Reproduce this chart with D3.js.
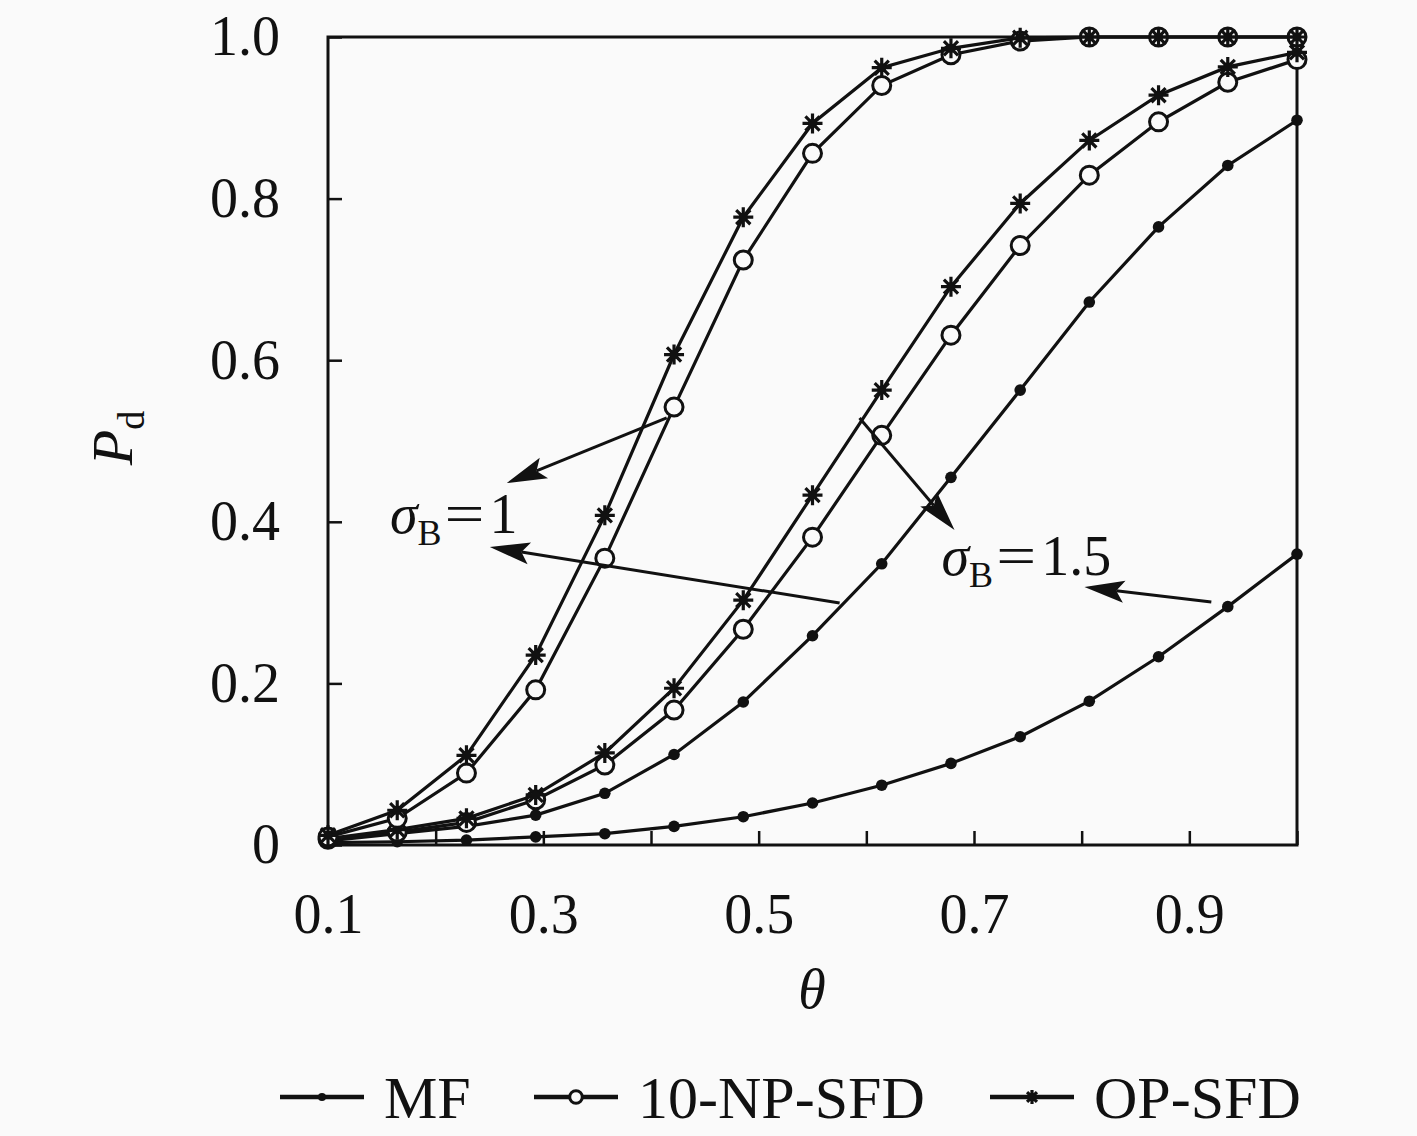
<!DOCTYPE html>
<html>
<head>
<meta charset="utf-8">
<style>
    body { margin: 0; background: #fafafa; }
    svg { display: block; font-family: 'Liberation Serif', 'DejaVu Serif', serif; }
    .axis .domain { display: none; }
    .axis .tick line { stroke: #111; stroke-width: 2.5px; }
    .axis .tick text { font-size: 56px; fill: #111; font-family: 'Liberation Serif', serif; }
    .curve { fill: none; stroke: #111; stroke-width: 3.2px; }
    .arrow { stroke: #111; stroke-width: 3px; }
    .legend text { font-size: 60px; fill: #111; }
</style>
</head>
<body>
<svg width="1417" height="1136"></svg>
<script src="https://d3js.org/d3.v7.min.js"></script>
<script>
    const width = 1417;
    const height = 1136;
    const margin = { top: 37, right: 120, bottom: 291, left: 328 };

    // theta sample points
    const theta = [0.1, 0.1643, 0.2286, 0.2929, 0.3571, 0.4214, 0.4857, 0.55,
                   0.6143, 0.6786, 0.7429, 0.8071, 0.8714, 0.9357, 1.0];

    // sigma_B = 1
    const opSfd1 = [0.012, 0.043, 0.111, 0.235, 0.408, 0.607, 0.777, 0.893, 0.962, 0.986, 0.999, 1.0, 1.0, 1.0, 1.0];
    const npSfd1 = [0.010, 0.033, 0.089, 0.192, 0.355, 0.542, 0.724, 0.856, 0.940, 0.978, 0.995, 1.0, 1.0, 1.0, 1.0];
    const mf1    = [0.005, 0.014, 0.023, 0.037, 0.064, 0.112, 0.177, 0.259, 0.348, 0.455, 0.563, 0.672, 0.765, 0.841, 0.897];

    // sigma_B = 1.5
    const opSfd15 = [0.008, 0.019, 0.033, 0.062, 0.114, 0.194, 0.303, 0.433, 0.563, 0.691, 0.794, 0.872, 0.928, 0.963, 0.981];
    const npSfd15 = [0.007, 0.016, 0.028, 0.056, 0.099, 0.167, 0.267, 0.381, 0.507, 0.631, 0.742, 0.829, 0.895, 0.944, 0.972];
    const mf15    = [0.003, 0.004, 0.006, 0.010, 0.014, 0.023, 0.035, 0.052, 0.074, 0.101, 0.134, 0.178, 0.233, 0.295, 0.360];

    const xTicks = [0.1, 0.2, 0.3, 0.4, 0.5, 0.6, 0.7, 0.8, 0.9, 1.0];
    const xLabeled = [0.1, 0.3, 0.5, 0.7, 0.9];
    const yTicks = [0, 0.2, 0.4, 0.6, 0.8, 1.0];

    const legendNames = ["MF", "10-NP-SFD", "OP-SFD"];

    // annotation arrows in data units: [x1, y1, x2, y2] (x2,y2 = head)
    const arrows = [
        [0.4146, 0.5285, 0.2661, 0.4480],
        [0.5752, 0.2995, 0.2503, 0.3688],
        [0.5937, 0.5285, 0.6819, 0.3899],
        [0.9204, 0.3007, 0.8026, 0.3193]
    ];
    const notes = [
        { x: 0.1575, y: 0.386, value: "1" },
        { x: 0.6698, y: 0.334, value: "1.5" }
    ];

    const series = [
        { values: mf15, marker: "dot" },
        { values: mf1, marker: "dot" },
        { values: npSfd15, marker: "circle" },
        { values: opSfd15, marker: "star" },
        { values: npSfd1, marker: "circle" },
        { values: opSfd1, marker: "star" }
    ];

    const svg = d3.select("svg");

    const x = d3.scaleLinear()
        .domain([0.1, 1.0])
        .range([margin.left, width - margin.right]);

    const y = d3.scaleLinear()
        .domain([0, 1])
        .range([height - margin.bottom, margin.top]);

    svg.append("g")
        .attr("class", "x axis")
        .attr("transform", `translate(0, ${height - margin.bottom})`)
        .call(d3.axisBottom(x)
            .tickValues(xTicks)
            .tickSize(-14)
            .tickPadding(48)
            .tickFormat(d => xLabeled.some(v => Math.abs(v - d) < 1e-9) ? d3.format(".1f")(d) : ""));

    svg.append("g")
        .attr("class", "y axis")
        .attr("transform", `translate(${margin.left}, 0)`)
        .call(d3.axisLeft(y)
            .tickValues(yTicks)
            .tickSize(-14)
            .tickPadding(48)
            .tickFormat(d => d === 0 ? "0" : d3.format(".1f")(d)));

    // frame
    svg.append("rect")
        .attr("x", x(0.1))
        .attr("y", y(1))
        .attr("width", x(1.0) - x(0.1))
        .attr("height", y(0) - y(1))
        .attr("fill", "none")
        .attr("stroke", "#111")
        .attr("stroke-width", 3);

    // 8-spoke asterisk
    function starPath(r) {
        let p = "";
        for (let i = 0; i < 4; i++) {
            const a = i * Math.PI / 4;
            const dx = r * Math.cos(a), dy = r * Math.sin(a);
            p += `M${-dx},${-dy}L${dx},${dy}`;
        }
        return p;
    }

    function drawMarker(g, type, scale) {
        if (type === "dot") {
            g.append("circle").attr("r", 5.8 * scale).attr("fill", "#111");
        } else if (type === "circle") {
            g.append("circle").attr("r", 9 * scale)
                .attr("fill", "#fafafa").attr("stroke", "#111").attr("stroke-width", 3);
        } else {
            g.append("path").attr("d", starPath(10 * scale))
                .attr("stroke", "#111").attr("stroke-width", 3.2).attr("fill", "none");
            g.append("circle").attr("r", 4.5 * scale).attr("fill", "#111");
        }
    }

    const line = d3.line()
        .x((d, i) => x(theta[i]))
        .y(d => y(d));

    series.forEach(s => {
        svg.append("path")
            .attr("class", "curve")
            .attr("d", line(s.values));

        s.values.forEach((v, i) => {
            const g = svg.append("g")
                .attr("transform", `translate(${x(theta[i])}, ${y(v)})`);
            drawMarker(g, s.marker, 1);
        });
    });

    // arrows
    arrows.forEach(a => {
        const x1 = x(a[0]), y1 = y(a[1]), x2 = x(a[2]), y2 = y(a[3]);
        const ang = Math.atan2(y2 - y1, x2 - x1);
        const len = 40, hw = 11;
        const bx = x2 - len * Math.cos(ang), by = y2 - len * Math.sin(ang);
        const nx = -Math.sin(ang), ny = Math.cos(ang);
        svg.append("line")
            .attr("class", "arrow")
            .attr("x1", x1).attr("y1", y1)
            .attr("x2", bx + 8 * Math.cos(ang)).attr("y2", by + 8 * Math.sin(ang));
        const mx = x2 - (len - 8) * Math.cos(ang), my = y2 - (len - 8) * Math.sin(ang);
        svg.append("path")
            .attr("d", `M${x2},${y2}L${bx + nx * hw},${by + ny * hw}L${mx},${my}L${bx - nx * hw},${by - ny * hw}Z`)
            .attr("fill", "#111");
    });

    // sigma_B labels
    notes.forEach(n => {
        const t = svg.append("text")
            .attr("x", x(n.x))
            .attr("y", y(n.y))
            .attr("font-size", 56)
            .attr("fill", "#111");
        t.append("tspan").attr("font-style", "italic").text("σ");
        t.append("tspan").attr("font-size", 36).attr("dy", 12).text("B");
        t.append("tspan").attr("dy", -12).attr("dx", 3)
            .attr("textLength", 40).attr("lengthAdjust", "spacingAndGlyphs").text("=");
        t.append("tspan").attr("dx", 5).text(n.value);
    });

    // axis titles
    svg.append("text")
        .attr("x", 812)
        .attr("y", 1008)
        .attr("text-anchor", "middle")
        .attr("font-size", 56)
        .attr("font-style", "italic")
        .attr("fill", "#111")
        .text("θ");

    const yTitle = svg.append("text")
        .attr("transform", "translate(132, 438) rotate(-90)")
        .attr("text-anchor", "middle")
        .attr("font-size", 58)
        .attr("fill", "#111");
    yTitle.append("tspan").attr("font-style", "italic").text("P");
    yTitle.append("tspan").attr("font-size", 38).attr("dy", 12).text("d");

    // legend
    const legendItems = [
        { name: legendNames[0], marker: "dot", x0: 280 },
        { name: legendNames[1], marker: "circle", x0: 534 },
        { name: legendNames[2], marker: "star", x0: 990 }
    ];
    const legend = svg.append("g").attr("class", "legend");
    legendItems.forEach(item => {
        const g = legend.append("g").attr("transform", `translate(${item.x0}, 1097)`);
        g.append("line")
            .attr("x1", 0).attr("x2", 84)
            .attr("stroke", "#111").attr("stroke-width", 4.5);
        const m = g.append("g").attr("transform", "translate(42, 0)");
        drawMarker(m, item.marker, 0.7);
        g.append("text")
            .attr("x", 104)
            .attr("y", 21)
            .text(item.name);
    });
</script>
</body>
</html>
